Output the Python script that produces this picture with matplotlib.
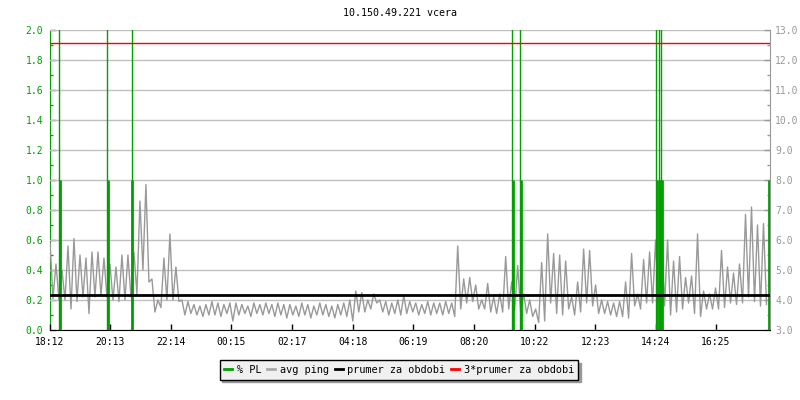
import numpy as np
import matplotlib.pyplot as plt
from matplotlib.ticker import MultipleLocator, FormatStrFormatter

# avg ping [ms] - 12 min bins from 18:12, peak then trough of each bin
ping = [
    5.9, 4.05, 5.2, 4.0, 5.0, 4.0, 5.8, 3.7, 6.05, 3.95,
    5.5, 4.1, 5.4, 3.55, 5.6, 4.1, 5.6, 4.15, 5.4, 4.1,
    5.2, 4.0, 5.1, 3.95, 5.5, 4.0, 5.5, 4.1, 5.6, 4.2,
    7.3, 5.0, 7.85, 4.6, 4.7, 3.6, 4.0, 3.75, 5.4, 4.0,
    6.2, 4.0, 5.1, 3.95, 4.0, 3.5, 3.95, 3.55, 3.85, 3.5,
    3.8, 3.45, 3.85, 3.5, 3.95, 3.5, 3.9, 3.45, 3.85, 3.55,
    3.9, 3.3, 3.9, 3.5, 3.85, 3.55, 3.8, 3.45, 3.9, 3.55,
    3.85, 3.5, 3.9, 3.55, 3.85, 3.45, 3.9, 3.5, 3.85, 3.4,
    3.85, 3.5, 3.8, 3.45, 3.9, 3.5, 3.85, 3.4, 3.8, 3.5,
    3.9, 3.5, 3.85, 3.45, 3.8, 3.4, 3.85, 3.5, 3.9, 3.45,
    4.0, 3.3, 4.3, 3.6, 4.25, 3.6, 4.0, 3.7, 4.2, 3.9,
    4.0, 3.6, 3.95, 3.5, 3.9, 3.55, 4.0, 3.5, 4.15, 3.55,
    3.95, 3.6, 3.9, 3.5, 3.85, 3.55, 3.95, 3.5, 3.9, 3.55,
    3.9, 3.5, 3.95, 3.55, 3.9, 3.45, 5.8, 3.7, 4.7, 3.9,
    4.75, 3.95, 4.5, 3.7, 4.0, 3.7, 4.55, 3.6, 4.1, 3.55,
    4.2, 3.6, 5.45, 3.7, 4.6, 3.65, 5.15, 3.6, 4.2, 3.55,
    4.0, 3.45, 3.7, 3.25, 5.25, 3.3, 6.2, 3.9, 5.55, 3.55,
    5.5, 3.5, 5.3, 3.7, 4.1, 3.5, 4.6, 3.6, 5.7, 3.9,
    5.65, 3.8, 4.5, 3.55, 4.0, 3.55, 3.95, 3.5, 3.9, 3.45,
    3.95, 3.45, 4.6, 3.4, 5.55, 3.8, 4.2, 3.7, 5.35, 3.9,
    5.6, 3.9, 6.0, 3.9, 6.5, 3.8, 6.0, 3.5, 5.3, 3.6,
    5.45, 3.7, 4.75, 3.9, 4.8, 3.55, 6.2, 3.45, 4.3, 3.7,
    4.2, 3.7, 4.4, 3.7, 5.65, 3.75, 5.1, 3.9, 4.9, 3.85,
    5.2, 3.9, 6.85, 4.1, 7.1, 3.95, 6.5, 3.8, 6.55, 3.85,
]
t_ping = np.arange(len(ping)) * 6  # minuty od 18:12

# packet loss [%] - minuty od 18:12
pl_min = [18.5, 20.5, 115, 116.5, 164, 165, 925, 926.5, 941, 942.5,
          1213, 1214, 1219, 1220.5, 1222, 1222.5, 1224.5, 1438]
pl_val = [100, 1, 100, 1, 100, 1, 100, 1, 100, 1,
          100, 1, 100, 1, 100, 1, 1, 1]

prumer = 4.17
prumer3 = 12.58

x_labels = ['18:12', '20:13', '22:14', '00:15', '02:17', '04:18',
            '06:19', '08:20', '10:22', '12:23', '14:24', '16:25']

GREEN = '#00a000'
GREY = '#999999'
plt.rcParams['font.family'] = 'DejaVu Sans Mono'

fig = plt.figure(figsize=(8, 4), dpi=100)
ax = fig.add_axes([50 / 800, 70 / 400, 719.5 / 800, 300 / 400])

ax.plot(t_ping, ping, color=GREY, lw=1, zorder=2)

# PL v jednotkach prave osy (0-2 % -> 3-13 ms)
pl_r = [3 + 5 * v for v in pl_val]
lws = [1 if v > 2 else 2 for v in pl_val]
ax.vlines(pl_min, 3, pl_r, color=GREEN, lw=lws, zorder=3)

ax.axhline(prumer, color='black', lw=2, zorder=4)
ax.axhline(prumer3, color='red', lw=1, zorder=4)

ax.set_xlim(0, 1440)
ax.set_ylim(3, 13)

# osa x
x_pos = []
for s in x_labels:
    h, m = s.split(':')
    x_pos.append((int(h) * 60 + int(m) - (18 * 60 + 12)) % 1440)
ax.set_xticks(x_pos)
ax.set_xticklabels(x_labels)
ax.tick_params(axis='x', direction='in', length=4, width=1, pad=5,
               labelsize=7, colors='black')

# prava osa - ping
ax.yaxis.tick_right()
ax.yaxis.set_major_locator(MultipleLocator(1))
ax.yaxis.set_minor_locator(MultipleLocator(0.5))
ax.yaxis.set_major_formatter(FormatStrFormatter('%.1f'))
ax.tick_params(axis='y', which='major', direction='in', length=4, width=1,
               pad=4, labelsize=7, colors=GREY)
ax.tick_params(axis='y', which='minor', direction='in', length=2.5,
               width=1, colors=GREY)
ax.grid(axis='y', color='#c0c0c0', lw=1)
ax.set_axisbelow(True)

for s in ['top', 'left']:
    ax.spines[s].set_visible(False)
ax.spines['right'].set_color(GREY)
ax.spines['bottom'].set_color('black')

# leva osa - PL
sec = ax.secondary_yaxis('left', functions=(lambda r: (r - 3) / 5,
                                            lambda l: 3 + 5 * l))
sec.set_yticks(np.arange(0, 2.01, 0.2))
sec.yaxis.set_minor_locator(MultipleLocator(0.1))
sec.yaxis.set_major_formatter(FormatStrFormatter('%.1f'))
sec.tick_params(axis='y', which='major', direction='in', length=4, width=1,
                pad=5, labelsize=7, colors=GREEN)
sec.tick_params(axis='y', which='minor', direction='in', length=2.5,
                width=1, colors=GREEN)
sec.spines['left'].set_color(GREEN)

fig.text(0.5, 1 - 13 / 400, '10.150.49.221 vcera', ha='center',
         va='center', fontsize=7.2)

handles = [
    plt.Line2D([], [], color=GREEN, lw=2),
    plt.Line2D([], [], color='#aaaaaa', lw=2),
    plt.Line2D([], [], color='black', lw=2),
    plt.Line2D([], [], color='red', lw=2),
]
leg = fig.legend(handles, ['% PL', 'avg ping', 'prumer za obdobi',
                           '3*prumer za obdobi'],
                 loc='center', bbox_to_anchor=(399 / 800, 1 - 370 / 400),
                 ncol=4, fontsize=7.4, handlelength=0.8, handletextpad=0.4,
                 columnspacing=0.6, borderpad=0.45, fancybox=False,
                 shadow={'color': GREY, 'alpha': 1}, framealpha=1,
                 facecolor='#f0f0f0', edgecolor='black')
leg.get_frame().set_linewidth(1)

fig.savefig('out.png', dpi=100)
